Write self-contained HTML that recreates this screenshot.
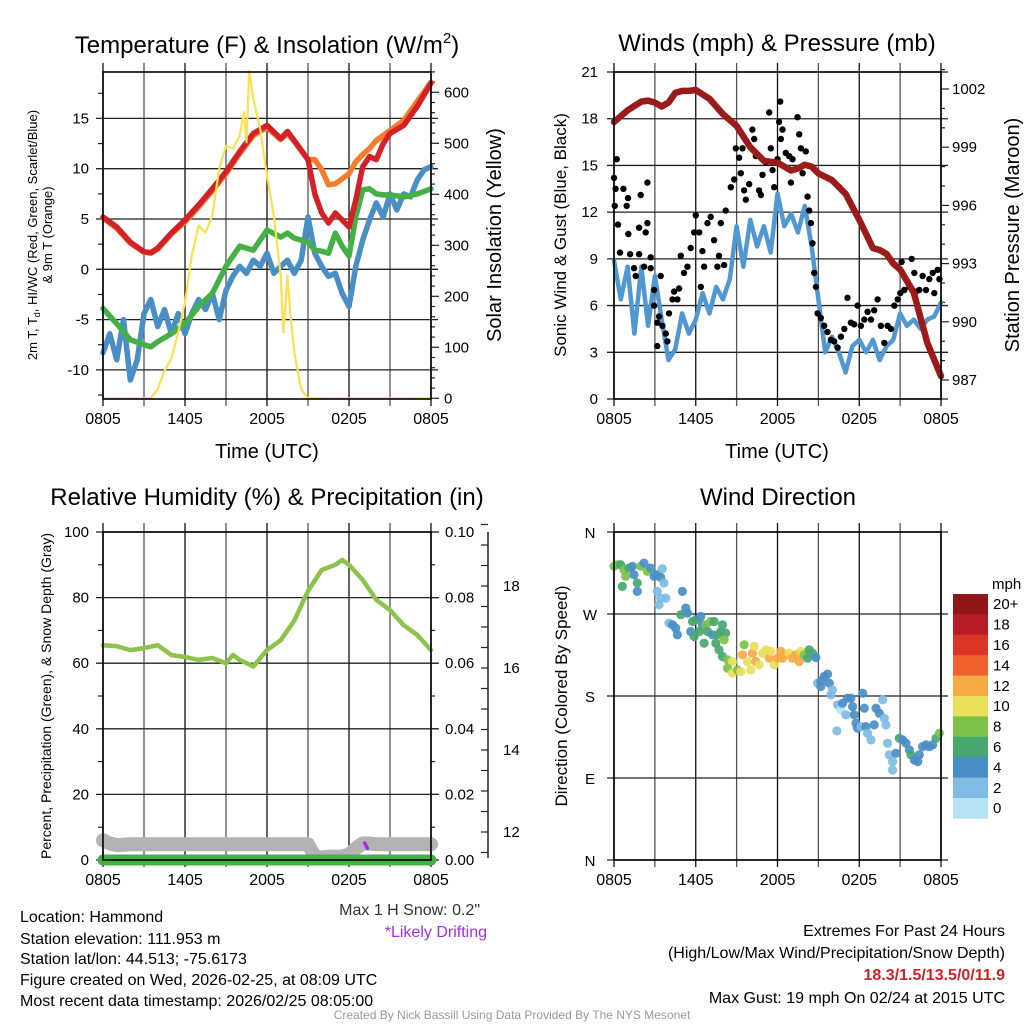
<!DOCTYPE html>
<html><head><meta charset="utf-8"><title>Mesonet Station Chart</title>
<style>
html,body{margin:0;padding:0;background:#fff;}
svg{display:block;font-family:"Liberation Sans",Arial,sans-serif;}
</style></head>
<body>
<svg id="chart" width="1024" height="1024" viewBox="0 0 1024 1024" xmlns="http://www.w3.org/2000/svg">
<rect x="0" y="0" width="1024" height="1024" fill="#fff"/>
<g font-size="24" fill="#000" text-anchor="middle">
<text x="267" y="53">Temperature (F) &amp; Insolation (W/m<tspan font-size="15" dy="-10">2</tspan><tspan dy="10">)</tspan></text>
<text x="777" y="51">Winds (mph) &amp; Pressure (mb)</text>
<text x="267" y="505">Relative Humidity (%) &amp; Precipitation (in)</text>
<text x="778" y="505">Wind Direction</text>
</g>
<g font-size="20" text-anchor="middle">
<text x="267" y="458">Time (UTC)</text>
<text x="777" y="458">Time (UTC)</text>
<text transform="translate(501,235) rotate(-90)">Solar Insolation (Yellow)</text>
<text transform="translate(1019,235) rotate(-90)">Station Pressure (Maroon)</text>
</g>
<g font-size="13" text-anchor="middle">
<text transform="translate(37,235) rotate(-90)">2m T, T<tspan font-size="9" dy="3">d</tspan><tspan dy="-3">, HI/WC (Red, Green, Scarlet/Blue)</tspan></text>
<text transform="translate(52,235) rotate(-90)">&amp; 9m T (Orange)</text>
</g>
<text transform="translate(566,235) rotate(-90)" font-size="17" text-anchor="middle">Sonic Wind &amp; Gust (Blue, Black)</text>
<text transform="translate(51,696) rotate(-90)" font-size="14" text-anchor="middle">Percent, Precipitation (Green), &amp; Snow Depth (Gray)</text>
<text transform="translate(567,696) rotate(-90)" font-size="17" text-anchor="middle">Direction (Colored By Speed)</text>
<text x="992" y="589" font-size="15">mph</text>
<g font-size="16">
<text x="20" y="922">Location: Hammond</text>
<text x="20" y="944">Station elevation: 111.953 m</text>
<text x="20" y="964">Station lat/lon: 44.513; -75.6173</text>
<text x="20" y="985">Figure created on Wed, 2026-02-25, at 08:09 UTC</text>
<text x="20" y="1006">Most recent data timestamp: 2026/02/25 08:05:00</text>
<text x="480" y="915" text-anchor="end" fill="#333">Max 1 H Snow: 0.2"</text>
<text x="487" y="937" text-anchor="end" fill="#a52ee8">*Likely Drifting</text>
<text x="1005" y="936" text-anchor="end">Extremes For Past 24 Hours</text>
<text x="1005" y="958" text-anchor="end">(High/Low/Max Wind/Precipitation/Snow Depth)</text>
<text x="1005" y="980" text-anchor="end" fill="#d42027" font-weight="bold">18.3/1.5/13.5/0/11.9</text>
<text x="1005" y="1003" text-anchor="end">Max Gust: 19 mph On 02/24 at 2015 UTC</text>
</g>
<text x="512" y="1019" font-size="12" fill="#999" text-anchor="middle">Created By Nick Bassill Using Data Provided By The NYS Mesonet</text>
<g id="layer"></g>
</svg>
<script>
// ---- data (time in hours after 08:05 UTC) ----
const timeLabels = ["0805","1405","2005","0205","0805"];
const tT  = [0,1,2,3,3.5,4,5,6,7,8,9,10,11,12,13,13.5,14,15,15.5,16,16.5,17,17.5,18,18.5,19,19.5,20,20.5,21,22,23,24];
const tempRed = [5.2,4.2,2.7,1.75,1.65,2.1,3.6,4.9,6.4,8.0,9.7,11.7,13.5,14.3,13.0,13.7,12.8,10.9,7.5,5.6,4.6,5.6,4.9,4.2,6.9,10.2,11.2,10.9,12.5,13.5,14.3,16.2,18.5];
const tempOrange = [5.1,4.1,2.6,1.7,1.6,2.0,3.5,4.7,6.2,7.8,9.5,11.5,13.3,14.1,12.9,13.5,12.7,10.9,10.9,9.9,8.4,8.5,9.0,9.5,10.7,11.4,12.0,12.8,13.3,13.8,14.8,16.7,18.6];
const tempGreen = [-3.9,-5.4,-7.0,-7.5,-7.7,-7.2,-6.4,-5.4,-3.7,-2.4,0.3,2.3,1.9,3.9,3.2,3.6,3.1,2.7,1.9,1.8,1.6,3.6,2.3,1.3,5.2,7.9,8.0,7.5,7.4,7.4,7.2,7.5,8.0];
const tB = [0,0.5,1,1.5,2,2.5,3,3.5,4,4.5,5,5.5,6,6.5,7,7.5,8,8.5,9,9.5,10,10.5,11,11.5,12,12.5,13,13.5,14,14.5,15,15.5,16,16.5,17,17.5,18,18.5,19,19.5,20,20.5,21,21.5,22,22.5,23,23.5,24];
const tempBlue = [-8.3,-6.4,-9.0,-5.0,-11.0,-9.0,-4.4,-3.0,-5.7,-4.0,-6.4,-4.4,-6.4,-4.4,-3.0,-4.0,-2.4,-5.0,-2.1,-0.7,0.3,-0.4,0.9,0.3,1.6,-0.4,0.3,0.9,-0.4,0.9,5.2,1.6,0.3,-0.7,-0.4,-2.4,-3.7,0.3,2.9,4.9,6.6,5.2,7.5,5.9,7.5,7.2,8.9,9.9,10.2];
const tSolar = [0,3.5,4,4.5,5,5.5,6,6.5,7,7.5,8,8.5,9,9.5,10,10.3,10.5,10.7,11,11.5,12,12.5,13,13.2,13.5,13.7,14,14.5,15,24];
const solar = [0,0,18,54,77,129,188,280,339,325,358,450,495,489,515,561,502,642,587,528,437,358,240,129,240,169,90,18,0,0];
const tP = [0,0.5,1,2,2.5,3,3.5,4,4.5,5,5.5,6,7,8,9,10,11,12,12.5,13,13.5,14,14.5,15,16,17,18,19,19.5,20,20.5,21,22,23,24];
const pressure = [1000.3,1000.6,1000.9,1001.35,1001.4,1001.3,1001.1,1001.3,1001.8,1001.9,1001.9,1001.95,1001.5,1000.7,1000.1,999.0,998.3,998.2,998.0,997.8,997.9,998.1,998.0,997.65,997.3,996.6,995.25,993.8,993.7,993.5,993.0,992.7,991.5,988.9,987.2];
const sonicWind = [8.9,6.4,8.5,4.2,8.5,4.7,7.9,5.1,2.5,3.2,5.5,4.2,5.1,6.8,5.5,7.2,6.4,7.7,11.1,8.5,11.5,9.8,11.1,9.4,13.2,11.1,11.9,10.7,12.4,9.8,6.4,3.0,4.0,3.0,1.7,3.4,3.8,3.0,3.8,2.5,3.4,3.8,5.5,4.7,5.1,4.5,5.1,5.3,6.2];
const gustT = [0,0.2,0.12,0.05,0.29,0.69,0.93,1.03,1.05,0.44,1.18,1.84,1.96,1.84,2.33,2.45,2.45,1.47,1.59,2.2,2.69,2.69,2.94,2.94,3.18,3.18,3.43,3.31,3.55,3.8,3.92,4.04,4.29,4.41,4.65,4.78,4.9,5.14,5.39,5.63,5.88,6.0,6.25,6.37,6.49,6.61,6.86,7.1,7.35,7.59,7.71,7.84,8.08,8.2,8.57,8.82,8.94,9.18,9.31,9.43,9.55,9.67,9.92,10.16,10.29,10.41,10.65,10.78,10.9,11.14,11.39,11.51,11.63,11.76,12.0,12.12,12.2,12.25,12.37,12.61,12.86,12.98,13.1,13.47,13.59,13.72,13.84,14.08,14.21,14.33,14.45,14.57,14.69,14.82,14.94,15.18,15.43,15.67,15.92,16.16,16.41,16.65,16.9,17.14,17.39,17.63,17.88,18.12,18.37,18.61,18.86,19.1,19.35,19.59,19.84,20.08,20.33,20.57,20.82,21.01,21.11,21.31,21.67,21.85,22.04,22.16,22.41,22.65,22.9,23.14,23.39,23.51,23.76,23.88];
const gustMph = [14.2,15.4,13.5,12.4,11.2,13.5,12.4,12.9,10.6,9.4,9.3,9.3,13.1,11.0,10.7,11.3,13.9,8.4,7.9,8.5,9.1,8.4,7.0,6.0,4.9,3.4,7.9,5.3,4.7,4.2,3.7,5.5,6.4,6.9,6.4,7.1,9.2,8.1,8.5,9.7,10.7,11.8,10.7,7.2,9.5,8.5,11.3,11.7,10.2,8.5,9.2,11.3,8.6,12.1,13.6,14.1,16.1,15.5,14.5,16.1,13.4,12.8,13.8,17.3,16.7,15.6,13.4,13.1,14.4,15.2,18.4,16.1,14.7,13.6,15.4,17.8,19.1,16.7,17.3,15.8,15.6,13.9,15.4,18.1,17.0,16.1,14.5,15.9,13.0,12.1,11.3,10.0,8.1,7.2,5.5,5.2,4.7,4.3,3.8,3.7,3.3,4.0,4.5,6.5,4.9,4.8,6.0,4.7,5.1,5.6,5.1,5.7,6.4,4.7,3.6,4.7,4.5,6.0,6.4,6.8,8.8,7.0,7.2,9.0,8.1,6.9,7.0,7.9,7.0,7.7,8.1,6.8,8.3,7.7];
const tRH = [0,1,2,3,4,5,6,7,8,9,9.5,10,11,12,13,14,15,16,17,17.5,18,19,20,21,22,23,24];
const rh = [65.5,65.2,64,64.6,65.5,62.5,61.9,61,61.6,60,62.5,61,59,64,67,73,82,88.4,90,91.5,90,85.4,79.3,76.2,71.6,68.6,64];
const tPrecip = [0,24];
const precip = [0,0];
const tSnow = [0,0.5,1,2,4,8,12,15,15.5,16,16.5,17,17.5,18,18.5,19,19.5,20,22,24];
const snowDepth = [11.8,11.72,11.68,11.7,11.7,11.7,11.7,11.7,11.4,11.38,11.4,11.4,11.4,11.45,11.6,11.72,11.72,11.7,11.7,11.7];
const tDrift = [19.15,19.35];
const drift = [11.73,11.6];
const dirT = [0,0.24,0.49,0.73,0.86,0.61,1.1,1.35,1.47,1.71,1.71,1.96,2.2,2.45,2.69,2.94,3.18,3.43,3.55,3.67,3.18,3.43,3.31,3.8,5.02,5.27,4.9,4.04,4.29,4.53,4.65,5.39,5.76,6.0,6.37,6.49,5.63,5.88,6.25,6.74,6.86,6.61,7.1,7.35,7.22,7.59,7.84,7.96,8.2,8.08,7.47,7.71,7.96,8.33,8.69,8.33,8.69,9.06,9.31,9.55,9.43,9.8,10.04,10.16,10.29,10.41,10.65,10.9,11.14,11.39,11.51,11.76,12.0,12.25,12.37,12.61,12.86,13.1,13.35,13.59,13.72,13.96,14.21,14.33,14.57,14.82,14.94,15.18,15.43,15.67,15.8,15.18,16.04,15.92,16.41,16.65,16.78,17.02,17.14,17.39,17.51,17.63,17.76,17.88,18.12,18.25,18.37,18.49,18.61,18.86,19.1,19.23,19.47,19.72,19.84,19.96,20.08,20.21,20.45,20.45,20.7,20.94,21.19,21.43,21.67,21.8,22.04,22.29,22.41,22.65,22.9,23.14,23.39,23.63,23.88,16.36];
const dirDeg = [322.3,324.1,324.1,318.6,311.3,300.3,320.4,322.3,313.1,304.0,294.8,322.3,325.9,316.8,320.4,311.3,313.1,310.2,319.7,304.0,294.8,287.5,280.1,287.5,294.8,276.5,269.2,260.0,258.2,254.5,247.2,271.0,261.8,263.7,267.3,258.2,250.8,245.3,250.8,258.2,250.8,238.0,261.8,261.8,247.2,247.2,250.8,258.2,249.0,241.7,238.0,230.7,223.4,219.7,217.9,210.5,205.1,208.7,206.9,236.2,225.2,217.9,208.7,227.0,234.4,217.9,214.2,227.0,230.7,221.5,228.9,214.2,221.5,228.9,221.5,225.2,227.0,221.5,225.2,217.9,228.9,225.2,221.5,230.7,227.0,222.3,194.1,195.9,201.4,204.0,194.1,190.4,186.7,181.2,170.3,164.8,172.1,159.3,177.6,177.6,168.4,159.3,150.1,144.6,146.4,183.1,166.6,146.4,139.1,131.8,148.3,166.6,161.1,175.8,155.6,148.3,128.1,115.3,108.0,98.8,117.1,133.6,131.8,128.1,120.8,115.3,109.8,108.0,115.3,124.5,126.3,124.5,126.3,133.6,139.1,141.7];
const dirSpeed = [9,9,7,9,9,7,7,5,5,7,5,9,5,9,5,5,5,5,3,3,3,3,3,3,5,5,7,3,5,5,5,5,7,7,5,5,5,7,7,9,7,7,9,7,5,7,7,7,7,9,7,7,7,9,11,9,11,9,11,9,13,11,11,13,11,13,11,11,11,13,11,11,13,13,13,13,11,13,13,13,11,9,7,7,7,5,3,5,5,5,5,5,3,3,3,1,5,3,5,5,5,5,5,5,3,5,5,5,3,3,5,5,5,3,3,3,3,3,3,3,5,7,5,5,5,7,5,5,5,5,5,5,5,7,9,3];
const speedLabels = ["20+","18","16","14","12","10","8","6","4","2","0"];
const speedColors = ["#911619","#b81c27","#dc3427","#f0612d","#f7a943","#e8e05a","#7cc24a","#48a770","#4a8ec6","#7fbbe4","#b7e3f7"];

// ---- scales ----
const NS = "http://www.w3.org/2000/svg";
const layer = document.getElementById('layer');
const P1 = {x0:103,x1:431,y0:72,y1:399}, P2 = {x0:614,x1:941,y0:72,y1:399};
const P3 = {x0:103,x1:431,y0:532,y1:860}, P4 = {x0:614,x1:941,y0:532,y1:860};
function xs(P,t){ return P.x0 + t/24*(P.x1-P.x0); }
const yTemp = v => 269.3 - v*10.06;
const ySolar = v => 398.3 - v*0.51;
const yWind = v => 399 - v*15.57;
const yPres = p => 89 + (1002-p)*19.4;
const yRH = v => 860 - v*3.28;
const yPrecip = v => 860 - v*3280;
const ySnow = s => 832 - (s-12)*41;
const yDir = d => 860 - d/360*328;

function mk(tag, attrs, parent){
  const el = document.createElementNS(NS, tag);
  for (const k in attrs) el.setAttribute(k, attrs[k]);
  (parent||layer).appendChild(el);
  return el;
}
function pathD(P, ts, vs, yf){
  return ts.map((t,i)=>(i?'L':'M')+xs(P,t).toFixed(1)+','+yf(vs[i]).toFixed(1)).join(' ');
}
function txt(x,y,s,size,anchor){
  const el = mk('text',{x:x,y:y,'font-size':size,'text-anchor':anchor||'middle'});
  el.textContent = s;
  return el;
}

function frame(P, prefix){
  for (let h=0; h<=24; h+=3){
    const x = xs(P,h);
    const g = mk('line',{x1:x,x2:x,y1:P.y0-9,y2:P.y1+7,stroke:(h%6===0)?'#111':'#555','stroke-width':1.3});
    
    
  }
  for (let i=0;i<timeLabels.length;i++){
    const l = txt(xs(P,i*6), P.y1+25, timeLabels[i], 16);
    
    
  }
}
function hgrid(P, y, prefix){
  const g = mk('line',{x1:P.x0-7,x2:P.x1+7,y1:y,y2:y,stroke:'#222','stroke-width':1.3});
  
  
}
function tick(x1,x2,y,prefix){
  const t = mk('line',{x1:x1,x2:x2,y1:y,y2:y,stroke:'#222','stroke-width':1.2});
  
  
}
function border(P, prefix){
  const b = mk('rect',{x:P.x0,y:P.y0,width:P.x1-P.x0,height:P.y1-P.y0,fill:'none',stroke:'#000','stroke-width':1.6});
  
  
}
function series(d, color, w, name){
  const p = mk('path',{d:d,fill:'none',stroke:color,'stroke-width':w,'stroke-linejoin':'round','stroke-linecap':'round'});
  
  
  return p;
}

// ---- Panel 1 ----
frame(P1,'temperature');
for (let v=-10; v<=15; v+=5){
  hgrid(P1, yTemp(v), 'temperature');
  const l = txt(89, yTemp(v)+5, String(v), 15, 'end');
  
  
}
for (let v=-12.5; v<=17.5; v+=5){ tick(P1.x0-5, P1.x0, yTemp(v), 'temperature-minor'); }
for (let r=0; r<=640; r+=20){ tick(P1.x1, P1.x1+(r%100===0?8:4), ySolar(r), 'solar'); }
for (let r=0; r<=600; r+=100){
  const l = txt(444, ySolar(r)+5, String(r), 15, 'start');
  
  
}
series(pathD(P1,tB,tempBlue,yTemp),'#4a8ec6',5.5,'hi-wc-line');
series(pathD(P1,tT,tempGreen,yTemp),'#45b045',5.5,'dewpoint-line');
series(pathD(P1,tT,tempOrange,yTemp),'#f47c2a',5.5,'temp-9m-line');
series(pathD(P1,tT,tempRed,yTemp),'#d42027',5.5,'temp-2m-line');
series(pathD(P1,tSolar,solar,ySolar),'#fbe04f',2.2,'solar-insolation-line');
border(P1,'temperature');

// ---- Panel 2 ----
frame(P2,'winds');
for (let v=0; v<=21; v+=3){
  hgrid(P2, yWind(v), 'winds');
  const l = txt(598, yWind(v)+5, String(v), 15, 'end');
  
  
}
for (let p=987; p<=1003; p+=1){ tick(P2.x1, P2.x1+((p-987)%3===0?8:4), yPres(p), 'pressure'); }
for (let p=987; p<=1002; p+=3){
  const l = txt(952, yPres(p)+5, String(p), 15, 'start');
  
  
}
series(pathD(P2,tB,sonicWind,yWind),'#5198d3',4.5,'sonic-wind-line');
for (let i=0;i<gustT.length;i++){
  const c = mk('circle',{cx:xs(P2,gustT[i]).toFixed(1),cy:yWind(gustMph[i]).toFixed(1),r:3.2,fill:'#000'});
  
  
}
series(pathD(P2,tP,pressure,yPres),'#9b1b1b',6.5,'pressure-line');
border(P2,'winds');

// ---- Panel 3 ----
frame(P3,'humidity');
for (let v=0; v<=100; v+=20){
  hgrid(P3, yRH(v), 'humidity');
  const l = txt(89, yRH(v)+5, String(v), 15, 'end');
  
  
}
for (let v=10; v<=90; v+=20){ tick(P3.x0-5, P3.x0, yRH(v), 'humidity-minor'); }
for (let v=0; v<=10; v+=1){ tick(P3.x1, P3.x1+(v%2===0?8:4), yPrecip(v/100), 'precip'); }
for (let v=0; v<=10; v+=2){
  const l = txt(445, yPrecip(v/100)+5, (v/100).toFixed(2), 15, 'start');
  
  
}
const sAx = mk('line',{x1:488,x2:488,y1:532,y2:858,stroke:'#222','stroke-width':1.5});


for (let s=11.5; s<=19.5; s+=0.5){ tick(481, 488, ySnow(s), 'snow-depth'); }
for (let s=12; s<=18; s+=2){
  const l = txt(503, ySnow(s)+5, String(s), 15, 'start');
  
  
}
series(pathD(P3,tSnow,snowDepth,ySnow),'#b3b3b3',14,'snow-depth-line');
series(pathD(P3,tDrift,drift,ySnow),'#a52ee8',3.5,'drifting-snow-line');
series(pathD(P3,tPrecip,precip,yPrecip),'#45b045',11,'precipitation-line');
series(pathD(P3,tRH,rh,yRH),'#8cc34b',4.5,'relative-humidity-line');
border(P3,'humidity');

// ---- Panel 4 ----
frame(P4,'direction');
const dirLabels = ["N","E","S","W","N"];
for (let i=0;i<5;i++){
  hgrid(P4, yDir(i*90), 'direction');
  const l = txt(590, yDir(i*90)+6, dirLabels[i], 15, 'middle');
  
  
}
function speedColor(s){ const idx = Math.min(10, Math.floor(s/2)); return speedColors[10-idx]; }
for (let i=0;i<dirT.length;i++){
  const c = mk('circle',{cx:xs(P4,dirT[i]).toFixed(1),cy:yDir(dirDeg[i]).toFixed(1),r:4.6,fill:speedColor(dirSpeed[i]),'fill-opacity':0.92});
  
  
}
border(P4,'direction');
const boxH = 20.4;
for (let i=0;i<speedLabels.length;i++){
  const b = mk('rect',{x:953,y:594+i*boxH,width:35,height:boxH+0.3,fill:speedColors[i]});
  
  
  const l = txt(993, 594+i*boxH+boxH/2+5, speedLabels[i], 15, 'start');
  
  
}
</script>
</body></html>
